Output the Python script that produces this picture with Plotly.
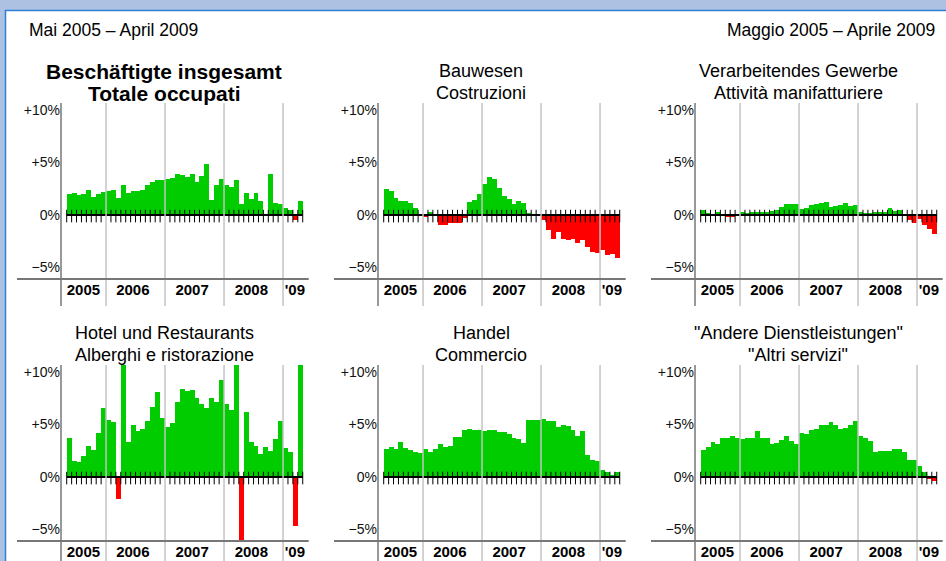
import plotly.graph_objects as go

# ---------------- data ----------------
year_labels = ["2005", "2006", "2007", "2008", "'09"]
months_per_year = [8, 12, 12, 12, 4]          # May 2005 .. April 2009

titles_de = ["Beschäftigte insgesamt", "Bauwesen", "Verarbeitendes Gewerbe",
             "Hotel und Restaurants", "Handel", "\"Andere Dienstleistungen\""]
titles_it = ["Totale occupati", "Costruzioni", "Attività manifatturiere",
             "Alberghi e ristorazione", "Commercio", "\"Altri servizi\""]

total = [2.0, 2.07, 1.9, 2.0, 2.4, 1.7, 2.0, 2.15,
         2.25, 2.4, 1.65, 2.9, 2.1, 2.3, 2.3, 2.4, 2.85, 3.15, 3.35, 3.35,
         3.45, 3.5, 3.9, 3.8, 3.6, 3.9, 3.15, 3.7, 4.9, 1.45, 2.9, 3.45,
         2.9, 2.65, 3.35, 1.05, 2.1, 1.5, 2.1, 1.35, 0.0, 3.9, 1.15, 1.05,
         0.65, 0.5, -0.45, 1.35]
construction = [2.5, 2.3, 1.6, 1.35, 1.35, 1.15, 0.65, 0.05,
                -0.15, 0.25, -0.05, -0.95, -0.95, -0.75, -0.75, -0.75, -0.3, 1.25, 1.45, 2.0,
                3.0, 3.6, 3.45, 2.6, 1.8, 1.55, 1.05, 1.35, 1.15, 0.1, 0.0, 0.0,
                -0.5, -1.4, -2.25, -1.6, -2.25, -2.35, -2.25, -2.65, -2.35, -3.0, -3.5, -3.6,
                -3.3, -3.8, -3.7, -4.1]
manufacturing = [0.5, 0.1, 0.05, 0.25, 0.05, -0.2, -0.2, -0.05,
                 0.3, 0.15, 0.3, 0.3, 0.3, 0.3, 0.4, 0.5, 0.75, 1.05, 1.05, 1.05,
                 0.55, 0.65, 0.95, 1.05, 1.15, 1.25, 0.75, 0.85, 0.95, 1.15, 0.85, 0.95,
                 0.3, 0.2, 0.1, 0.3, 0.3, 0.3, 0.65, 0.4, 0.5, 0.0, -0.45, -0.8,
                 -0.4, -0.95, -1.35, -1.85]
hotels = [3.7, 1.5, 1.4, 2.0, 2.95, 2.55, 4.15, 6.55,
          5.4, 5.2, -2.05, 12.0, 3.3, 5.0, 4.35, 4.55, 5.3, 6.7, 8.05, 5.6,
          4.75, 5.1, 7.1, 8.35, 8.15, 8.25, 7.55, 7.0, 6.55, 7.55, 7.1, 9.2,
          7.0, 6.35, 12.0, -6.3, 6.15, 3.3, 3.0, 2.2, 2.85, 2.45, 3.6, 5.3,
          2.75, 2.35, -4.7, 12.0]
trade = [2.65, 2.85, 2.65, 3.3, 2.75, 2.55, 2.35, 2.25,
         2.65, 2.35, 2.65, 3.1, 2.85, 3.0, 3.85, 3.85, 4.5, 4.6, 4.5, 4.5,
         4.35, 4.5, 4.45, 4.25, 4.25, 4.05, 3.7, 3.6, 3.2, 5.4, 5.45, 5.4,
         5.55, 5.3, 5.3, 4.8, 5.0, 4.9, 4.45, 3.95, 4.35, 2.1, 1.6, 1.5,
         0.65, 0.45, 0.2, 0.45]
other = [2.55, 2.85, 3.3, 3.1, 3.75, 3.75, 3.95, 3.75,
         3.6, 3.75, 3.75, 4.35, 3.7, 3.7, 3.1, 3.2, 3.5, 3.95, 3.4, 3.1,
         4.15, 4.05, 4.45, 4.55, 5.0, 5.0, 5.2, 5.0, 4.55, 4.7, 5.0, 5.3,
         3.95, 3.7, 3.4, 2.35, 2.45, 2.45, 2.45, 2.65, 2.65, 2.35, 1.6, 1.6,
         1.05, 0.45, -0.2, -0.4]

series = [total, construction, manufacturing, hotels, trade, other]

y_tick_vals = [-5, 0, 5, 10]
y_tick_text = ["\u22125%", "0%", "+5%", "+10%"]

header_left = "Mai 2005 \u2013 April 2009"
header_right = "Maggio 2005 \u2013 Aprile 2009"

# ---------------- styling / geometry ----------------
W, H = 946, 561
FONT = "Liberation Sans, Arial, Helvetica, sans-serif"
GREEN = "#00cc00"
RED = "#ff0000"
FRAME_BG = "#adc2e3"
FRAME_LINE = "#2f7fd6"

MW = 4.917                 # px per month
COL_AXIS = [61, 378, 695]  # y-axis line x (px)
BAR_OFF = 5.7              # first bar left edge offset from axis line (px)
DOM_W = 250                # x domain width (px)
ROW_ZERO = [215, 477]
ROW_TOP = [103, 365]
ROW_BOT = [279, 541]
PX_PER_PCT = 10.5
TITLE_CX = [164, 481, 798]
TITLE_Y1 = [71, 333]
TITLE_Y2 = [93, 355]
label_shift = [-0.6, -0.55, -0.5, -0.45, 0.4]


def fx(px):
    return px / W


def fy(py):
    return 1 - py / H


n_months = sum(months_per_year)
bounds = [0]
for m in months_per_year:
    bounds.append(bounds[-1] + m)
year_centers = [(bounds[i] + bounds[i + 1]) / 2 + label_shift[i] for i in range(len(months_per_year))]
inner_bounds = bounds[1:-1]
tick_x = [b for b in range(n_months + 1) if b not in inner_bounds]

fig = go.Figure()
shapes = []
annotations = []

# frame
shapes.append(dict(type="rect", xref="paper", yref="paper",
                   x0=fx(5.5), x1=fx(W + 3), y0=fy(H + 3), y1=fy(10.5),
                   fillcolor="white", line=dict(color=FRAME_LINE, width=1.5), layer="below"))

for i, vals in enumerate(series):
    r, c = divmod(i, 3)
    n = i + 1
    xs = "" if n == 1 else str(n)
    ax_x = COL_AXIS[c]
    x0px = ax_x
    x1px = ax_x + DOM_W
    xr = [-BAR_OFF / MW, (DOM_W - BAR_OFF) / MW]
    yr = [(ROW_ZERO[r] - ROW_BOT[r]) / PX_PER_PCT, (ROW_ZERO[r] - ROW_TOP[r]) / PX_PER_PCT]

    fig.add_trace(go.Bar(
        x=[k + 0.5 for k in range(n_months)], y=vals, width=1,
        marker=dict(color=[GREEN if v >= 0 else RED for v in vals], line=dict(width=0)),
        xaxis="x" + xs, yaxis="y" + xs, showlegend=False, hoverinfo="y"))
    fig.add_trace(go.Scatter(
        x=tick_x, y=[-0.1] * len(tick_x), mode="markers",
        marker=dict(symbol="line-ns", size=9, line=dict(color="black", width=1)),
        xaxis="x" + xs, yaxis="y" + xs, showlegend=False, hoverinfo="skip"))

    fig.layout["xaxis" + xs] = dict(
        domain=[fx(x0px), fx(x1px)], range=xr, anchor="y" + xs,
        showgrid=False, zeroline=False, showline=False, ticks="",
        tickmode="array", tickvals=year_centers, ticktext=year_labels,
        tickfont=dict(size=15, color="black", family=FONT, weight="bold"),
        fixedrange=True)
    fig.layout["yaxis" + xs] = dict(
        domain=[fy(ROW_BOT[r]), fy(ROW_TOP[r])], range=yr, anchor="x" + xs,
        showgrid=False, zeroline=False, showline=False, ticks="",
        tickmode="array", tickvals=y_tick_vals, ticktext=y_tick_text,
        tickfont=dict(size=14, color="#111", family=FONT),
        fixedrange=True)

    # zero line
    shapes.append(dict(type="line", xref="x" + xs, yref="y" + xs,
                       x0=0, x1=n_months, y0=0, y1=0,
                       line=dict(color="black", width=2), layer="above"))
    # year separators
    for b in inner_bounds:
        shapes.append(dict(type="line", xref="x" + xs, yref="paper",
                           x0=b, x1=b, y0=fy(ROW_TOP[r] + 203), y1=fy(ROW_TOP[r]),
                           line=dict(color="#c4c4c4", width=1.5), layer="above"))
    # y axis line
    shapes.append(dict(type="line", xref="paper", yref="paper",
                       x0=fx(ax_x), x1=fx(ax_x), y0=fy(ROW_TOP[r] + 203), y1=fy(ROW_TOP[r]),
                       line=dict(color="#333", width=1), layer="above"))
    # bottom axis line
    shapes.append(dict(type="line", xref="paper", yref="paper",
                       x0=fx(ax_x - 44), x1=fx(ax_x + BAR_OFF + n_months * MW + 6),
                       y0=fy(ROW_BOT[r]), y1=fy(ROW_BOT[r]),
                       line=dict(color="#777", width=2), layer="above"))

    # titles
    bold = (i == 0)
    tsize = 21 if bold else 18
    for txt, ty in ((titles_de[i], TITLE_Y1[r]), (titles_it[i], TITLE_Y2[r])):
        annotations.append(dict(
            text=("<b>%s</b>" % txt) if bold else txt,
            xref="paper", yref="paper", x=fx(TITLE_CX[c]), y=fy(ty),
            xanchor="center", yanchor="middle", showarrow=False,
            font=dict(size=tsize, color="black", family=FONT)))

annotations.append(dict(text=header_left, xref="paper", yref="paper",
                        x=fx(27), y=fy(30), xanchor="left", yanchor="middle",
                        showarrow=False, font=dict(size=17.5, color="black", family=FONT)))
annotations.append(dict(text=header_right, xref="paper", yref="paper",
                        x=fx(937), y=fy(30), xanchor="right", yanchor="middle",
                        showarrow=False, font=dict(size=17.5, color="black", family=FONT)))

fig.update_layout(
    width=W, height=H, margin=dict(l=0, r=0, t=0, b=0),
    paper_bgcolor=FRAME_BG, plot_bgcolor="rgba(0,0,0,0)",
    bargap=0, shapes=shapes, annotations=annotations,
    font=dict(family=FONT, color="black"),
)

fig.write_html("out.html", config={"displayModeBar": False},
               post_script="document.body.style.margin='0';document.body.style.overflow='hidden';")
